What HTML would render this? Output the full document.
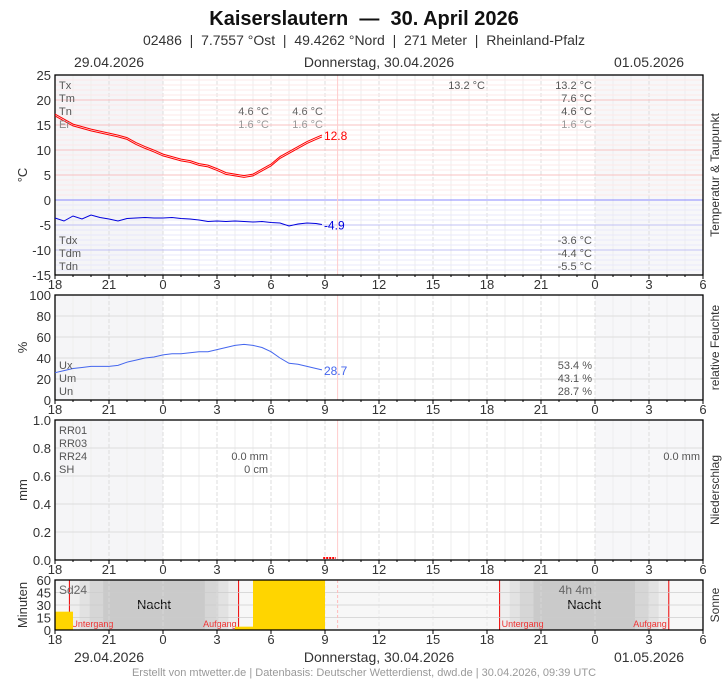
<!DOCTYPE html>
<html><head><meta charset="utf-8"><style>
body{margin:0;background:#fff;font-family:"Liberation Sans",sans-serif}
svg text{font-family:"Liberation Sans",sans-serif}
</style></head><body>
<svg id="c" width="728" height="680" xmlns="http://www.w3.org/2000/svg">
<text x="364" y="25" text-anchor="middle" font-size="20" font-weight="bold" fill="#111">Kaiserslautern &#160;—&#160; 30. April 2026</text>
<text x="364" y="45" text-anchor="middle" font-size="14" fill="#333">02486 &#160;| &#160;7.7557 °Ost &#160;| &#160;49.4262 °Nord &#160;| &#160;271 Meter &#160;| &#160;Rheinland-Pfalz</text>
<text x="109" y="67" text-anchor="middle" font-size="14" fill="#333">29.04.2026</text>
<text x="379" y="67" text-anchor="middle" font-size="14" fill="#333">Donnerstag, 30.04.2026</text>
<text x="649" y="67" text-anchor="middle" font-size="14" fill="#333">01.05.2026</text>
<text x="109" y="662" text-anchor="middle" font-size="14" fill="#333">29.04.2026</text>
<text x="379" y="662" text-anchor="middle" font-size="14" fill="#333">Donnerstag, 30.04.2026</text>
<text x="649" y="662" text-anchor="middle" font-size="14" fill="#333">01.05.2026</text>
<text x="364" y="676" text-anchor="middle" font-size="11" fill="#999">Erstellt von mtwetter.de | Datenbasis: Deutscher Wetterdienst, dwd.de | 30.04.2026, 09:39 UTC</text>
<g id="g"></g>
</svg>
<script>
// data (hours since 18:00 on 29.04)
const tempHours=[0,0.5,1,1.5,2,2.5,3,3.5,4,4.5,5,5.5,6,6.5,7,7.5,8,8.5,9,9.5,10,10.5,11,11.5,12,12.5,13,13.5,14,14.5,14.83];
const tempValues=[17,16,15,14.5,14,13.6,13.2,12.8,12.3,11.3,10.5,9.8,9,8.5,8,7.7,7.1,6.8,6.1,5.3,5,4.7,5,6,7,8.5,9.5,10.5,11.5,12.3,12.8];
const dewValues=[-3.6,-4.2,-3.2,-3.8,-3.0,-3.5,-3.8,-4.2,-3.7,-3.6,-3.5,-3.6,-3.6,-3.5,-3.7,-3.8,-4.0,-4.3,-4.2,-4.3,-4.2,-4.3,-4.4,-4.3,-4.5,-4.6,-5.2,-4.8,-4.6,-4.7,-4.9];
const humValues=[26,28,30,31,32,32,32,33,36,38,40,41,43,44,44,45,46,46,48,50,52,53,52,50,46,40,35,34,32,30,28.7];
const sunHours=[0,10,11,12,13,14];
const sunMinutes=[22,4,60,60,60,60];
const tickLabels=["18","21","0","3","6","9","12","15","18","21","0","3","6"];
const nightBands=[[0.8,10.2],[24.7,34.1]];

const NS="http://www.w3.org/2000/svg",G=document.getElementById('g');
const X0=55,X1=703,xs=h=>X0+h*(X1-X0)/36;
function el(t,a,txt){const e=document.createElementNS(NS,t);for(const k in a)e.setAttribute(k,a[k]);if(txt!=null)e.textContent=txt;G.appendChild(e);return e;}
function txt(x,y,s,o){const e=el('text',Object.assign({x:x,y:y,'font-size':11,fill:'#555'},o||{}),s);return e;}
function panel(name,top,bot,vmin,vmax,ticks,fmt,minorStep,colorFn,ylab,rlab,shade){
  const ys=v=>bot-(v-vmin)/(vmax-vmin)*(bot-top);
  if(shade){const r=el('rect',{x:X0,y:top,width:xs(6)-X0,height:bot-top,fill:'#f5f5f7'});
   const r2=el('rect',{x:xs(30),y:top,width:X1-xs(30),height:bot-top,fill:'#f7f7f9'});}
  for(let h=0;h<=36;h++){el('line',{x1:xs(h),x2:xs(h),y1:top,y2:bot,stroke:h%3?'#eee':'#ddd','stroke-dasharray':h%3?'':'4,2'});}
  for(let v=vmin;v<=vmax+1e-9;v+=minorStep){const c=colorFn(v);el('line',{x1:X0,x2:X1,y1:ys(v),y2:ys(v),stroke:c[0],'stroke-width':c[1]});}
  ticks.forEach(v=>{const t=txt(X0-4,ys(v)+5,fmt(v),{'font-size':13,fill:'#333','text-anchor':'end'});});
  el('line',{x1:xs(15.7),x2:xs(15.7),y1:top,y2:bot,stroke:'#fcc'});
  tickLabels.forEach((s,i)=>{const t=txt(xs(i*3),bot+14,s,{'font-size':13,fill:'#333','text-anchor':'middle'});
   el('line',{x1:xs(i*3),x2:xs(i*3),y1:bot,y2:bot+4,stroke:'#000'});});
  for(let h=1;h<36;h++)el('line',{x1:xs(h),x2:xs(h),y1:bot,y2:bot+2,stroke:'#000'});
  const b=el('rect',{x:X0,y:top,width:X1-X0,height:bot-top,fill:'none',stroke:'#000','stroke-width':1.3});
  const cy=(top+bot)/2;
  const yl=txt(0,0,ylab,{'font-size':13,fill:'#333','text-anchor':'middle',transform:`translate(27,${cy}) rotate(-90)`});
  const rl=txt(0,0,rlab,{'font-size':12,fill:'#333','text-anchor':'middle',transform:`translate(719,${cy}) rotate(-90)`});
  return ys;
}
function line(ys,xsArr,vals,col,off,name,w){const p=el('polyline',{points:vals.map((v,i)=>xs(xsArr[i])+','+(ys(v)+off)).join(' '),fill:'none',stroke:col,'stroke-width':w||1});return p;}

// temperature
const ty=panel('temp',75,275,-15,25,[25,20,15,10,5,0,-5,-10,-15],v=>v,1,v=>v===0?['#88f',1]:v>0?(v%5?['#fde8e8',1]:['#f9c0c0',1]):(v%5?['#e8e8fb',1]:['#c0c0f5',1]),'°C','Temperatur & Taupunkt',true);
line(ty,tempHours,tempValues,'#f00',-0.9,'temperature-line-upper');
line(ty,tempHours,tempValues,'#f00',0.9,'temperature-line-lower');
line(ty,tempHours,dewValues,'#00d',0,'dewpoint-line');
txt(xs(14.83)+2,ty(tempValues[tempValues.length-1])+4,tempValues[tempValues.length-1].toFixed(1),{'font-size':12,fill:'#f00'});
txt(xs(14.83)+2,ty(dewValues[dewValues.length-1])+5,dewValues[dewValues.length-1].toFixed(1),{'font-size':12,fill:'#00d'});
[['Tx',89],['Tm',102],['Tn',115],['Er',128],['Tdx',244],['Tdm',257],['Tdn',270]].forEach(a=>txt(59,a[1],a[0],{fill:a[0]=='Er'?'#888':'#555'}));
[['4.6 °C',115,'#666'],['1.6 °C',128,'#999']].forEach(a=>{txt(269,a[1],a[0],{'text-anchor':'end',fill:a[2]});txt(323,a[1],a[0],{'text-anchor':'end',fill:a[2]});});
txt(485,89,'13.2 °C',{'text-anchor':'end'});
[['13.2 °C',89,'#555'],['7.6 °C',102,'#555'],['4.6 °C',115,'#555'],['1.6 °C',128,'#999'],['-3.6 °C',244,'#555'],['-4.4 °C',257,'#555'],['-5.5 °C',270,'#555']].forEach(a=>txt(592,a[1],a[0],{'text-anchor':'end',fill:a[2]}));

// humidity
const hy=panel('hum',295,400,0,100,[100,80,60,40,20,0],v=>v,20,v=>['#ddd',1],'%','relative Feuchte',true);
line(hy,tempHours,humValues,'#46e',0,'humidity-line');
txt(xs(14.83)+2,hy(28.7)+5,'28.7',{'font-size':12,fill:'#46e'});
[['Ux',369],['Um',382],['Un',395]].forEach(a=>txt(59,a[1],a[0]));
[['53.4 %',369],['43.1 %',382],['28.7 %',395]].forEach(a=>txt(592,a[1],a[0],{'text-anchor':'end'}));

// precip
const py=panel('precip',420,560,0,1,[1,0.8,0.6,0.4,0.2,0],v=>v.toFixed(1),0.2,v=>['#ddd',1],'mm','Niederschlag',true);
el('line',{x1:xs(14.9),x2:xs(15.6),y1:558,y2:558,stroke:'#f00','stroke-width':2,'stroke-dasharray':'2,1'});
[['RR01',434],['RR03',447],['RR24',460],['SH',473]].forEach(a=>txt(59,a[1],a[0]));
txt(268,460,'0.0 mm',{'text-anchor':'end'});txt(268,473,'0 cm',{'text-anchor':'end'});txt(700,460,'0.0 mm',{'text-anchor':'end'});

// sun
const sy=v=>630-v*50/60;
el('rect',{x:X0,y:580,width:X1-X0,height:50,fill:'#f7f7f7'});
nightBands.forEach((b,i)=>{const sh=['#eee','#e2e2e2','#d6d6d6','#cacaca'];
 const len=b[1]-b[0];
 [[0,1],[0.06,0.94],[0.12,0.88],[0.2,0.8]].forEach((f,j)=>{const r=el('rect',{x:xs(b[0]+len*f[0]),y:580,width:xs(b[0]+len*f[1])-xs(b[0]+len*f[0]),height:50,fill:sh[j]});});
 el('line',{x1:xs(b[0]),x2:xs(b[0]),y1:580,y2:630,stroke:'#e00'});el('line',{x1:xs(b[1]),x2:xs(b[1]),y1:580,y2:630,stroke:'#e00'});
 txt(xs((b[0]+b[1])/2),609,'Nacht',{'font-size':13,fill:'#111','text-anchor':'middle'});
 txt(xs(b[0])+2,627,'Untergang',{'font-size':9,fill:'#e33'});txt(xs(b[1])-2,627,'Aufgang',{'font-size':9,fill:'#e33','text-anchor':'end'});});
for(let v=0;v<=60;v+=15)el('line',{x1:X0,x2:X1,y1:sy(v),y2:sy(v),stroke:'#ccc','stroke-opacity':0.7});
for(let h=0;h<=36;h+=3)el('line',{x1:xs(h),x2:xs(h),y1:580,y2:630,stroke:'#ddd','stroke-dasharray':'4,2','stroke-opacity':0.6});
sunHours.forEach((h,i)=>{const r=el('rect',{x:xs(h),y:sy(sunMinutes[i]),width:xs(h+1)-xs(h),height:630-sy(sunMinutes[i]),fill:'#ffd500'});
 
 });
el('line',{x1:xs(15.7),x2:xs(15.7),y1:580,y2:630,stroke:'#fbb','stroke-dasharray':'3,2'});
[60,45,30,15,0].forEach(v=>txt(51,sy(v)+5,v,{'font-size':13,fill:'#333','text-anchor':'end'}));
tickLabels.forEach((s,i)=>{txt(xs(i*3),644,s,{'font-size':13,fill:'#333','text-anchor':'middle'});el('line',{x1:xs(i*3),x2:xs(i*3),y1:630,y2:634,stroke:'#000'});});
el('rect',{x:X0,y:580,width:X1-X0,height:50,fill:'none',stroke:'#000','stroke-width':1.3});
txt(59,594,'Sd24',{'font-size':12,fill:'#666'});txt(592,594,'4h 4m',{'font-size':12,fill:'#666','text-anchor':'end'});
txt(0,0,'Minuten',{'font-size':13,fill:'#333','text-anchor':'middle',transform:'translate(27,605) rotate(-90)'});
txt(0,0,'Sonne',{'font-size':12,fill:'#333','text-anchor':'middle',transform:'translate(719,605) rotate(-90)'});
</script>
</body></html>
